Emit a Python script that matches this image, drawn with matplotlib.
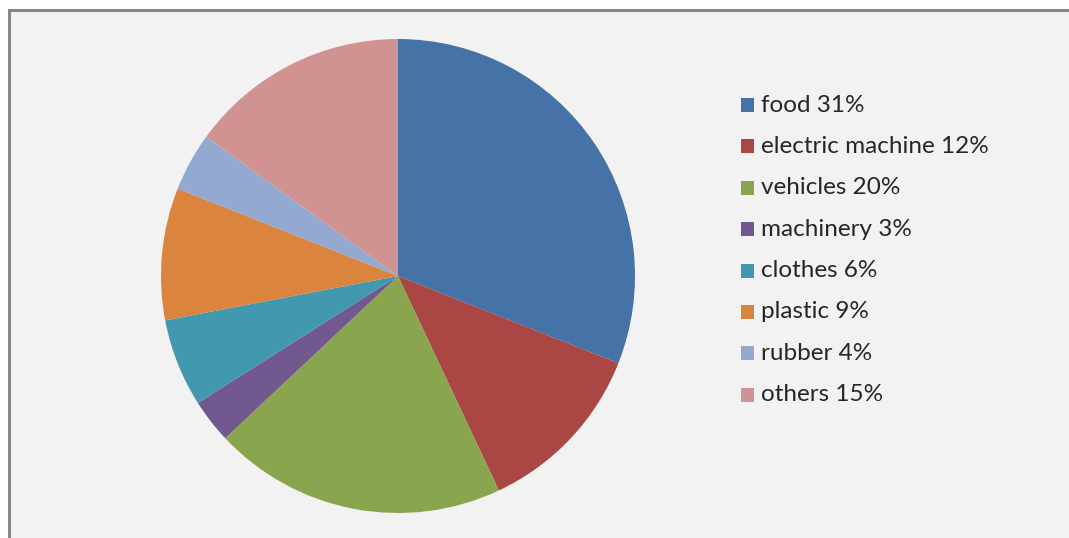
import matplotlib.pyplot as plt
from matplotlib.patches import Rectangle

categories = ['food', 'electric machine', 'vehicles', 'machinery',
              'clothes', 'plastic', 'rubber', 'others']
shares = [31, 12, 20, 3, 6, 9, 4, 15]
colors = ['#4572a7', '#aa4643', '#89a54e', '#71588f',
          '#4198af', '#db843d', '#93a9cf', '#d19392']

fig = plt.figure(figsize=(10.69, 5.38), dpi=100)
fig.patch.set_facecolor('white')

# chart area background with grey frame on top/left
bg = Rectangle((9 / 1069, -0.1), 1.1, 1.1 - 10 / 538, transform=fig.transFigure,
               facecolor='#f2f2f2', edgecolor='#878787', linewidth=2.2, zorder=-1)
fig.patches.append(bg)

ax = fig.add_axes([(398 - 237) / 1069, (538 - 513) / 538, 474 / 1069, 474 / 538])
ax.set_zorder(2)
ax.set_facecolor('none')
wedges, _ = ax.pie(shares, colors=colors, startangle=90, counterclock=False,
                   wedgeprops=dict(linewidth=0))
ax.set_xlim(-1, 1)
ax.set_ylim(-1, 1)
ax.set_aspect('equal')
ax.axis('off')

labels = [f'{c} {v}%' for c, v in zip(categories, shares)]
y0 = 105
for i, (lab, col) in enumerate(zip(labels, colors)):
    y = y0 + i * 41.4
    fig.patches.append(Rectangle((741 / 1069, 1 - (y + 7) / 538), 13 / 1069, 14 / 538,
                                 transform=fig.transFigure, facecolor=col,
                                 edgecolor='none', zorder=3))
    fig.text(761 / 1069, 1 - y / 538, lab, fontsize=17.5, family='Lato',
             color='#262626', va='center', ha='left')

fig.savefig('out.png', dpi=100, facecolor=fig.get_facecolor())
